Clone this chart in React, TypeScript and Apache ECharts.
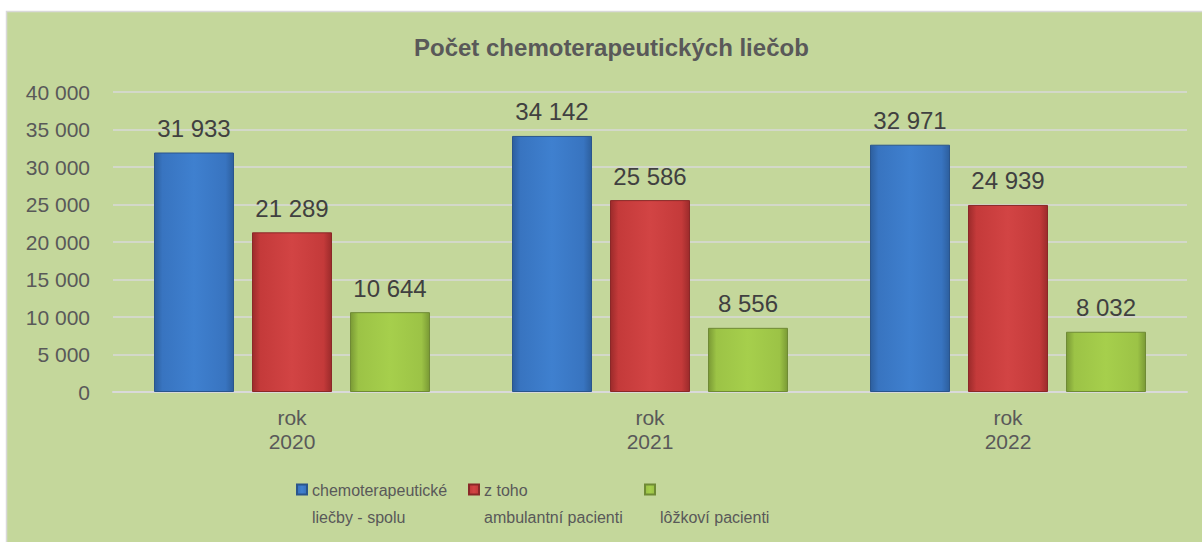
import React, { useEffect, useRef } from "react";
import * as echarts from "echarts";

const categories = ["rok\n2020", "rok\n2021", "rok\n2022"];
const seriesNames = [
  "chemoterapeutické\nliečby - spolu",
  "z toho\nambulantní pacienti",
  "\nlôžkoví pacienti",
];
const totalValues = [31933, 34142, 32971];
const outpatientValues = [21289, 25586, 24939];
const inpatientValues = [10644, 8556, 8032];
const yTicks = { min: 0, max: 40000, interval: 5000 };
const title = "Počet chemoterapeutických liečob";

const fmt = (v: number) =>
  String(Math.round(v)).replace(/\B(?=(\d{3})+(?!\d))/g, " ");

const grad = (dark: string, mid: string, light: string) =>
  new echarts.graphic.LinearGradient(0, 0, 1, 0, [
    { offset: 0, color: dark },
    { offset: 0.1, color: mid },
    { offset: 0.5, color: light },
    { offset: 0.9, color: mid },
    { offset: 1, color: dark },
  ]);

export default function App() {
  const ref = useRef<HTMLDivElement>(null);
  useEffect(() => {
    if (!ref.current) return;
    const chart = echarts.init(ref.current, undefined, { renderer: "svg" });
    const font = "Liberation Sans, Arial, sans-serif";
    const colors = [
      { dark: "#2d5f9e", mid: "#3874c0", light: "#3f80cf", border: "#2a558c" },
      { dark: "#9c2b2b", mid: "#c43a3a", light: "#d24444", border: "#8a2828" },
      { dark: "#7a9a35", mid: "#9cc346", light: "#a6cf4c", border: "#6f8a35" },
    ];
    const datasets = [totalValues, outpatientValues, inpatientValues];
    const legendLefts = [296, 468, 644];
    const legends = seriesNames.map((n, i) => ({
      left: legendLefts[i],
      top: 476.5,
      padding: 0,
      itemWidth: 10,
      itemHeight: 38,
      icon: "path://M0,0L10,0L10,10L0,10Z M0,38L0,38",
      data: [n],
      textStyle: {
        fontFamily: font,
        fontSize: 16,
        color: "#595959",
        lineHeight: 27,
      },
    }));
    chart.setOption({
      animation: false,
      backgroundColor: "#ffffff",
      textStyle: { fontFamily: font },
      graphic: [
        {
          type: "rect",
          z: -10,
          silent: true,
          shape: { x: 6.5, y: 11.5, width: 1200, height: 540 },
          style: { fill: "#c4d79b", stroke: "#d9d9d9", lineWidth: 1.5 },
        },
      ],
      title: {
        text: title,
        left: 414,
        top: 35,
        padding: 0,
        textStyle: {
          fontFamily: font,
          fontSize: 24,
          fontWeight: "bold",
          color: "#595959",
        },
      },
      grid: { left: 113, right: 15, top: 92, bottom: 150, containLabel: false },
      legend: legends,
      xAxis: {
        type: "category",
        data: categories,
        axisTick: { show: false },
        axisLine: { lineStyle: { color: "#d9d9d9", width: 2 } },
        axisLabel: {
          fontFamily: font,
          fontSize: 21,
          color: "#595959",
          lineHeight: 24,
          margin: 13,
        },
      },
      yAxis: {
        type: "value",
        min: yTicks.min,
        max: yTicks.max,
        interval: yTicks.interval,
        axisLine: { show: false },
        axisTick: { show: false },
        splitLine: { lineStyle: { color: "#d9d9d9", width: 1.5 } },
        axisLabel: {
          fontFamily: font,
          fontSize: 21,
          color: "#595959",
          margin: 23,
          formatter: (v: number) => fmt(v),
        },
      },
      series: datasets.map((d, i) => ({
        type: "bar",
        name: seriesNames[i],
        data: d,
        barWidth: 80,
        barGap: "22.5%",
        itemStyle: {
          color: grad(colors[i].dark, colors[i].mid, colors[i].light),
          borderColor: colors[i].border,
          borderWidth: 1,
        },
        label: {
          show: true,
          position: "top",
          distance: 12,
          fontFamily: font,
          fontSize: 24,
          color: "#404040",
          formatter: (p: any) => fmt(p.value),
        },
      })),
      color: colors.map((c) => c.mid),
    });
    return () => chart.dispose();
  }, []);
  return (
    <div
      ref={ref}
      style={{ position: "fixed", left: 0, top: 0, width: 1202, height: 542 }}
    />
  );
}
